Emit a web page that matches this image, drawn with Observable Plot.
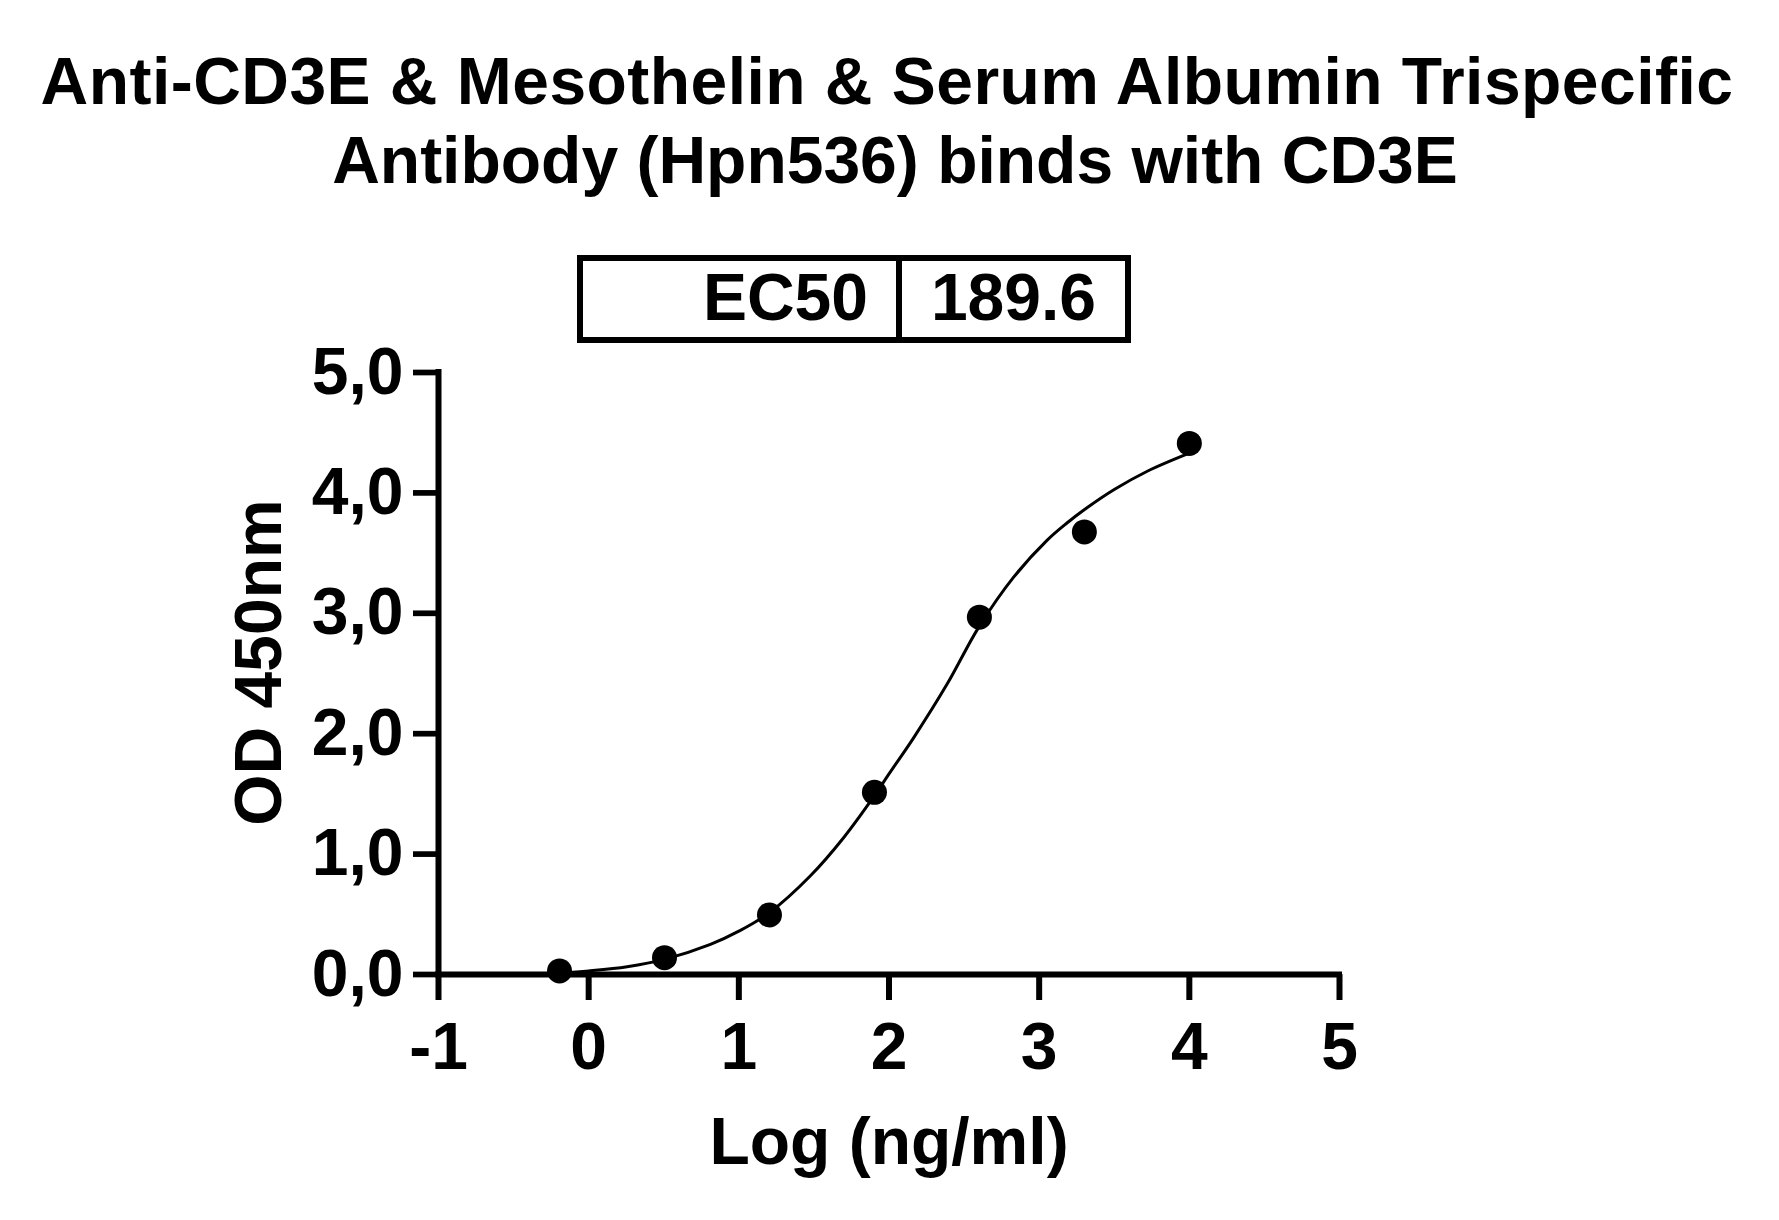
<!DOCTYPE html>
<html>
<head>
<meta charset="utf-8">
<script src="https://cdn.jsdelivr.net/npm/d3@7"></script>
<script src="https://cdn.jsdelivr.net/npm/@observablehq/plot@0.6"></script>
<style>
  html, body { margin: 0; padding: 0; background: #fff; overflow: hidden; }
  body { width: 1779px; height: 1220px; position: relative; font-family: Arial, "Liberation Sans", sans-serif; font-weight: bold; color: #000; }
  #title { position: absolute; top: 42px; left: 10px; width: 1770px; text-align: center; font-size: 66px; line-height: 79px; }
  #title .l1 { letter-spacing: 0.46px; padding-right: 16px; white-space: nowrap; }
  #title .l2 { white-space: nowrap; }
  #ec50 { position: absolute; left: 577px; top: 255px; width: 554px; height: 88px; border: 6px solid #000; box-sizing: border-box; display: flex; font-size: 66px; line-height: 72px; }
  #ec50 .k { width: 319px; border-right: 6px solid #000; text-align: right; padding-right: 28px; box-sizing: border-box; }
  #ec50 .v { flex: 1; text-align: center; }
  #chart { position: absolute; left: 0; top: 0; }
</style>
</head>
<body>
<div id="chart"></div>
<div id="title"><div class="l1"></div><div class="l2"></div></div>
<div id="ec50"><div class="k"></div><div class="v"></div></div>
<script>
// ---- data ----
const titleLines = ["Anti-CD3E & Mesothelin & Serum Albumin Trispecific", "Antibody (Hpn536) binds with CD3E"];
const xLabel = "Log (ng/ml)";
const yLabel = "OD 450nm";
const ec50Label = "EC50";
const ec50Value = "189.6";

// measured points
const logConc = [-0.194, 0.505, 1.204, 1.903, 2.602, 3.301, 4.0];
const od450 = [0.03, 0.14, 0.495, 1.513, 2.968, 3.676, 4.411];

// fitted curve
const curveX = [-0.19, 0.0, 0.256, 0.505, 0.811, 1.0, 1.204, 1.477, 1.699, 1.903, 2.0, 2.166, 2.388, 2.598, 2.83, 3.052, 3.185, 3.30, 3.5, 3.72, 4.0];
const curveY = [0.012, 0.03, 0.065, 0.126, 0.25, 0.36, 0.514, 0.82, 1.138, 1.485, 1.666, 1.97, 2.414, 2.885, 3.30, 3.606, 3.75, 3.86, 4.028, 4.18, 4.33];

const xTicks = [-1, 0, 1, 2, 3, 4, 5];
const yTicks = [0, 1, 2, 3, 4, 5];

// ---- build ----
document.querySelector("#title .l1").textContent = titleLines[0];
document.querySelector("#title .l2").textContent = titleLines[1];
document.querySelector("#ec50 .k").textContent = ec50Label;
document.querySelector("#ec50 .v").textContent = ec50Value;

const points = logConc.map((x, i) => ({x, y: od450[i]}));
const curve = curveX.map((x, i) => ({x, y: curveY[i]}));

const chart = Plot.plot({
  width: 1779,
  height: 1220,
  marginLeft: 438,
  marginRight: 440,
  marginTop: 372,
  marginBottom: 246,
  style: {fontFamily: "Arial, 'Liberation Sans', sans-serif", fontWeight: "bold", background: "#fff", color: "#000"},
  x: {domain: [-1, 5]},
  y: {domain: [0, 5]},
  marks: [
    Plot.axisX({ticks: xTicks, tickSize: 26, tickPadding: 22, strokeWidth: 6, fontSize: 66, tickFormat: d => String(d), label: null}),
    Plot.axisY({ticks: yTicks, tickSize: 25, tickPadding: 10, strokeWidth: 5.7, fontSize: 66, tickFormat: d => d.toFixed(1).replace(".", ","), label: null}),
    Plot.ruleX([-1], {y1: 0, y2: 5, strokeWidth: 6, strokeLinecap: "square"}),
    Plot.ruleY([0], {x1: -1, x2: 5, strokeWidth: 6, strokeLinecap: "square"}),
    Plot.line(curve, {x: "x", y: "y", curve: "catmull-rom", stroke: "#000", strokeWidth: 3}),
    Plot.dot(points, {x: "x", y: "y", r: 12.5, fill: "#000", stroke: null}),
    Plot.text([xLabel], {text: d => d, frameAnchor: "bottom", lineAnchor: "bottom", dy: 189, fontSize: 66, fill: "#000"}),
    Plot.text([yLabel], {text: d => d, frameAnchor: "left", textAnchor: "middle", rotate: -90, lineAnchor: "middle", dx: -179, dy: -11, fontSize: 66, fill: "#000"})
  ]
});
document.getElementById("chart").appendChild(chart);
</script>
</body>
</html>
